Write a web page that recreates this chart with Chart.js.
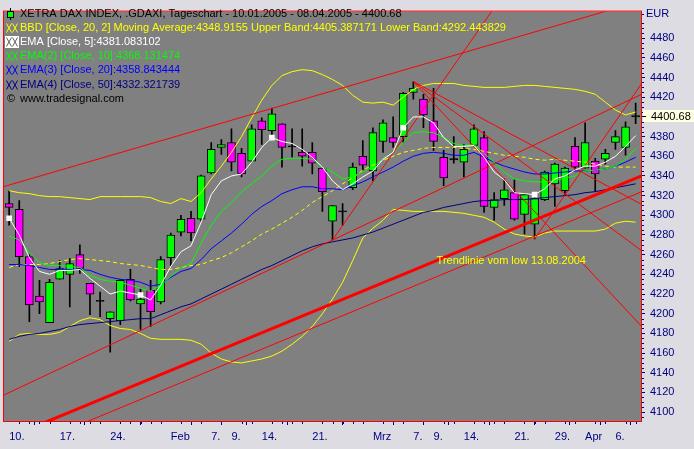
<!DOCTYPE html>
<html>
<head>
<meta charset="utf-8">
<script src="https://cdn.jsdelivr.net/npm/chart.js@4.4.0/dist/chart.umd.min.js"></script>
<style>
  html, body { margin: 0; padding: 0; background: #dcdce2; }
  #wrap { width: 694px; height: 449px; }
</style>
</head>
<body>
<div id="wrap"><canvas id="chart" width="694" height="449"></canvas></div>
<script>
// Tageskerzen 10.01.2005 - 08.04.2005 (63 Handelstage)
const opens  = [4312,4306,4258,4218,4191,4235,4240,4260,4231,4213,4195,4193,4235,4210,4224,4212,4257,4283,4297,4296,4343,4369,4374,4363,4355,4396,4386,4393,4370,4364,4364,4348,4294,4304,4328,4360,4345,4375,4379,4380,4425,4418,4396,4359,4357,4354,4371,4379,4308,4317,4323,4301,4291,4316,4332,4325,4370,4348,4355,4357,4374,4369,4400.68];
const highs  = [4325,4315,4260,4234,4235,4254,4256,4270,4231,4222,4202,4235,4245,4225,4234,4258,4282,4300,4304,4341,4374,4377,4388,4368,4392,4399,4409,4393,4388,4388,4374,4348,4310,4312,4353,4376,4389,4397,4400,4425,4436,4423,4429,4366,4380,4372,4392,4385,4323,4337,4336,4321,4322,4345,4353,4349,4379,4394,4358,4367,4386,4395,4414];
const lows   = [4290,4248,4192,4200,4191,4235,4207,4241,4199,4197,4161,4189,4213,4184,4187,4210,4249,4279,4274,4294,4342,4362,4345,4339,4355,4372,4377,4349,4359,4350,4342,4304,4275,4290,4326,4346,4335,4364,4369,4374,4418,4389,4366,4330,4353,4339,4371,4303,4295,4310,4295,4281,4276,4315,4309,4320,4345,4348,4324,4352,4367,4361,4393];
const closes = [4308,4258,4209,4212,4232,4246,4251,4246,4220,4213,4202,4234,4214,4215,4202,4255,4280,4296,4282,4340,4367,4372,4354,4342,4388,4387,4403,4369,4370,4360,4353,4324,4310,4304,4349,4351,4384,4394,4374,4424,4429,4402,4375,4338,4357,4367,4388,4309,4316,4326,4296,4321,4317,4344,4352,4348,4349,4374,4342,4363,4380,4390,4400.68];

// Indikatoren
const ema5   = [4297,4280,4257,4243,4240,4244,4244,4245,4236,4228,4220,4223,4221,4219,4214,4229,4248,4263,4269,4293,4321,4335,4340,4342,4354,4369,4379,4375,4373,4367,4359,4349,4335,4326,4332,4339,4345,4357,4364,4389,4400,4400,4394,4379,4370,4370,4371,4359,4344,4336,4323,4322,4321,4327,4337,4340,4346,4350,4350,4354,4360,4370,4381];
const ema10  = [4279,4275,4262,4252,4249,4249,4248,4247,4239,4235,4233,4232,4229,4226,4223,4229,4238,4247,4251,4272,4290,4304,4313,4324,4332,4340,4350,4357,4358,4358,4357,4349,4344,4337,4339,4344,4349,4357,4364,4374,4384,4385,4384,4379,4373,4371,4372,4363,4354,4344,4337,4335,4334,4334,4335,4338,4340,4345,4346,4347,4350,4357,4368];
const ema20  = [4250,4250,4249,4247,4245,4245,4245,4245,4244,4240,4237,4235,4234,4232,4228,4230,4237,4243,4246,4255,4266,4274,4282,4291,4301,4309,4315,4322,4326,4329,4329,4327,4327,4326,4330,4334,4339,4344,4349,4355,4360,4363,4364,4363,4361,4361,4364,4359,4354,4350,4347,4344,4342,4342,4343,4344,4345,4345,4346,4347,4350,4354,4359];
const ema50  = [4174,4177,4179,4180,4182,4184,4187,4189,4190,4191,4192,4193,4194,4195,4195,4199,4203,4207,4210,4215,4220,4225,4230,4235,4240,4245,4249,4254,4259,4264,4268,4271,4273,4275,4277,4280,4283,4287,4291,4295,4299,4303,4305,4308,4310,4312,4314,4315,4315,4316,4316,4316,4317,4318,4319,4320,4321,4323,4324,4326,4328,4330,4332];
const bbUpper = [4325,4323,4322,4320,4319,4319,4318,4317,4316,4319,4319,4319,4319,4319,4318,4314,4312,4317,4314,4323,4337,4350,4364,4380,4399,4417,4432,4442,4446,4448,4447,4443,4438,4432,4422,4415,4414,4415,4412,4420,4428,4432,4434,4434,4434,4432,4431,4430,4430,4430,4431,4432,4432,4431,4430,4429,4428,4426,4423,4415,4407,4402,4405];
const bbMid   = [4247,4250,4250,4250,4251,4253,4255,4256,4255,4254,4253,4251,4250,4249,4247,4245,4245,4247,4249,4250,4254,4257,4262,4268,4274,4281,4286,4292,4298,4305,4313,4319,4325,4332,4338,4346,4351,4356,4360,4364,4366,4368,4369,4369,4369,4368,4367,4365,4363,4361,4360,4359,4357,4356,4357,4356,4355,4354,4352,4350,4349,4349,4349];
const bbLower = [4172,4179,4180,4179,4179,4181,4187,4193,4196,4194,4188,4185,4184,4180,4175,4174,4174,4174,4173,4169,4160,4154,4151,4150,4152,4154,4157,4162,4169,4177,4187,4200,4215,4232,4254,4277,4287,4295,4306,4305,4304,4304,4304,4304,4303,4302,4300,4298,4293,4286,4281,4279,4278,4282,4284,4284,4284,4284,4284,4286,4292,4294,4293];
const signalIdx = [0, 13, 26, 39, 52];

// Achsen
const xTickIdx = [0, 5, 10, 16, 20, 22, 25, 30, 36, 40, 42, 45, 50, 54, 57, 60];
const xTickLbl = ['10.', '17.', '24.', 'Feb', '7.', '9.', '14.', '21.', 'Mrz', '7.', '9.', '14.', '21.', '29.', 'Apr', '6.'];
const yTickVals = [4100,4120,4140,4160,4180,4200,4220,4240,4260,4280,4300,4320,4340,4360,4380,4400,4420,4440,4460,4480];

// Trendlinien [x1, y1, x2, y2] in Tagesindex / Punkten
const thinLines = [
  [-0.6, 4329, 62.6, 4518],   // obere Kanallinie
  [-0.6, 4117, 62.6, 4423],   // Linie vom Januar-Tief
  [-0.6, 4055, 62.6, 4324],   // Parallele unter der Trendlinie
  [32, 4275, 47.8, 4508],     // steil vom Tief 04.03.
  [52, 4276, 62.6, 4434],     // steil vom Tief 24.03.
  [40, 4436, 62.6, 4311],     // Faecher vom Hoch 07.03.
  [40, 4436, 62.6, 4264],
  [40, 4436, 62.6, 4187]
];
const thickLine = [-0.6, 4072, 62.6, 4340];

const headerLines = [
  {icon: 'candle', text: 'XETRA DAX INDEX, .GDAXI, Tageschart - 10.01.2005 - 08.04.2005 - 4400.68', color: '#000000'},
  {icon: 'xx', text: 'BBD [Close, 20, 2] Moving Average:4348.9155 Upper Band:4405.387171 Lower Band:4292.443829', color: '#ffff00'},
  {icon: 'box', text: 'EMA [Close, 5]:4381.083102', color: '#ffffff'},
  {icon: 'xx', text: 'EMA(2) [Close, 10]:4368.131474', color: '#00ff00'},
  {icon: 'xx', text: 'EMA(3) [Close, 20]:4358.843444', color: '#0000ff'},
  {icon: 'xx', text: 'EMA(4) [Close, 50]:4332.321739', color: '#000080'},
  {icon: 'copy', text: 'www.tradesignal.com', color: '#000000'}
];

const FONT = '"Liberation Sans", Arial, sans-serif';
const idx = opens.map((_, i) => i);

function lineSet(values, color, extra) {
  return Object.assign({
    type: 'line',
    data: idx.map(i => ({x: i, y: values[i]})),
    borderColor: color,
    borderWidth: 1,
    pointRadius: 0,
    tension: 0,
    order: 5
  }, extra || {});
}

function segSet(seg, width) {
  return {
    type: 'line',
    data: [{x: seg[0], y: seg[1]}, {x: seg[2], y: seg[3]}],
    borderColor: '#ff0000',
    borderWidth: width,
    pointRadius: 0,
    clip: 0,
    order: 2
  };
}

// kleines "XX"-Symbol wie in der Legende
function drawXX(ctx, x, y, color) {
  ctx.strokeStyle = color;
  ctx.lineWidth = 1;
  ctx.beginPath();
  for (const dx of [0, 6]) {
    ctx.moveTo(x + dx, y - 4.5);
    ctx.lineTo(x + dx + 5, y + 4.5);
    ctx.moveTo(x + dx + 5, y - 4.5);
    ctx.lineTo(x + dx, y + 4.5);
  }
  ctx.stroke();
}

const datasets = [
  {
    type: 'bar',
    data: idx.map(i => ({x: i, y: [lows[i], highs[i]]})),
    backgroundColor: '#000000',
    barThickness: 1,
    grouped: false,
    order: 20
  },
  {
    type: 'bar',
    data: idx.map(i => ({x: i, y: opens[i] === closes[i] ? [opens[i] - 0.6, opens[i] + 0.6] : [opens[i], closes[i]]})),
    backgroundColor: idx.map(i => closes[i] > opens[i] ? '#00ff00' : (closes[i] < opens[i] ? '#ff00ff' : '#000000')),
    borderColor: '#000000',
    borderWidth: 1,
    borderSkipped: false,
    barThickness: 8,
    grouped: false,
    order: 19
  },
  lineSet(bbUpper, '#ffff00', {order: 8}),
  lineSet(bbLower, '#ffff00', {order: 8}),
  lineSet(bbMid, '#ffff00', {order: 8, borderDash: [4, 3]}),
  lineSet(ema50, '#000080', {order: 7}),
  lineSet(ema20, '#0000ff', {order: 6}),
  lineSet(ema10, '#00ff00', {order: 5}),
  ...thinLines.map(s => segSet(s, 1)),
  segSet(thickLine, 3),
  lineSet(ema5, '#ffffff', {
    order: 1,
    pointStyle: 'rect',
    pointRadius: idx.map(i => signalIdx.includes(i) ? 4 : 0),
    pointBackgroundColor: '#ffffff',
    pointBorderColor: '#ffffff',
    pointBorderWidth: 0
  })
];

const deco = {
  id: 'deco',
  beforeDraw(chart) {
    const {ctx, chartArea: a} = chart;
    ctx.save();
    ctx.fillStyle = '#dcdce2';
    ctx.fillRect(0, 0, chart.width, chart.height);
    ctx.fillStyle = '#808080';
    ctx.fillRect(a.left, a.top, a.right - a.left, a.bottom - a.top);
    ctx.restore();
  },
  afterDraw(chart) {
    const {ctx, chartArea: a, scales} = chart;
    const xs = scales.x, ys = scales.y;
    ctx.save();

    // Rahmen
    ctx.strokeStyle = '#ff0000';
    ctx.lineWidth = 1;
    ctx.strokeRect(a.left - 0.5, a.top - 0.5, a.right - a.left + 1, a.bottom - a.top + 1);

    // kleine Striche
    ctx.strokeStyle = '#000080';
    ctx.beginPath();
    for (let v = 4095; v <= 4505; v += 5) {
      if (v % 20 === 0) continue;
      const y = Math.round(ys.getPixelForValue(v)) + 0.5;
      ctx.moveTo(a.right + 1, y);
      ctx.lineTo(a.right + 3, y);
    }
    idx.forEach(i => {
      if (xTickIdx.includes(i)) return;
      const x = Math.round(xs.getPixelForValue(i)) + 0.5;
      ctx.moveTo(x, a.bottom + 1);
      ctx.lineTo(x, a.bottom + 3);
    });
    ctx.stroke();

    // Kopfzeilen
    ctx.font = '11px ' + FONT;
    ctx.textBaseline = 'middle';
    headerLines.forEach((h, k) => {
      const y = Math.round(14 + k * 14.1);
      if (h.icon === 'candle') {
        ctx.fillStyle = '#000000';
        ctx.fillRect(10, y - 6, 1, 12);
        ctx.fillRect(7, y - 3, 7, 7);
        ctx.fillStyle = '#00ff00';
        ctx.fillRect(8, y - 2, 5, 5);
      } else if (h.icon === 'xx') {
        drawXX(ctx, 6.5, y, h.color);
      } else if (h.icon === 'box') {
        ctx.fillStyle = '#ffffff';
        ctx.fillRect(5, y - 6, 14, 12);
        drawXX(ctx, 6.5, y, '#606060');
      } else if (h.icon === 'copy') {
        ctx.fillStyle = '#000000';
        ctx.fillText('\u00a9', 7, y);
      }
      ctx.fillStyle = h.color;
      ctx.fillText(h.text, 20, y);
    });

    // Beschriftung Trendlinie
    ctx.fillStyle = '#ffff00';
    ctx.fillText('Trendlinie vom low 13.08.2004', xs.getPixelForValue(42.3), ys.getPixelForValue(4254));

    // Waehrung
    ctx.fillStyle = '#000080';
    ctx.fillText('EUR', 646, 14);

    // letzter Kurs
    const yl = Math.round(ys.getPixelForValue(closes[closes.length - 1]));
    ctx.fillStyle = '#ffffe1';
    ctx.fillRect(a.right + 2, yl - 6, chart.width - a.right - 2, 12);
    ctx.fillStyle = '#000000';
    ctx.fillRect(a.right + 2, yl, 3, 1);
    ctx.fillText(closes[closes.length - 1].toFixed(2), 651, yl + 0.5);

    ctx.restore();
  }
};

new Chart(document.getElementById('chart'), {
  type: 'bar',
  data: {datasets},
  options: {
    responsive: false,
    animation: false,
    devicePixelRatio: 1,
    events: [],
    layout: {padding: {left: 3, top: 5, right: 0, bottom: 0}},
    plugins: {legend: {display: false}, tooltip: {enabled: false}},
    scales: {
      x: {
        type: 'linear',
        min: -0.51,
        max: 62.53,
        offset: false,
        grid: {drawOnChartArea: false, drawTicks: true, tickLength: 4, tickColor: '#000080'},
        border: {display: false},
        afterBuildTicks: s => { s.ticks = xTickIdx.map(v => ({value: v})); },
        afterFit: s => { s.height = 28; },
        ticks: {
          autoSkip: false,
          maxRotation: 0,
          align: 'start',
          padding: 5,
          color: '#000080',
          font: {family: FONT, size: 11},
          callback: (v, k) => xTickLbl[k]
        }
      },
      y: {
        position: 'right',
        min: 4091,
        max: 4507,
        grid: {drawOnChartArea: false, drawTicks: true, tickLength: 4, tickColor: '#000080'},
        border: {display: false},
        afterBuildTicks: s => { s.ticks = yTickVals.map(v => ({value: v})); },
        afterFit: s => { s.width = 53; },
        ticks: {
          padding: 5,
          color: '#000080',
          font: {family: FONT, size: 11},
          callback: v => String(v)
        }
      }
    }
  },
  plugins: [deco]
});
</script>
</body>
</html>
